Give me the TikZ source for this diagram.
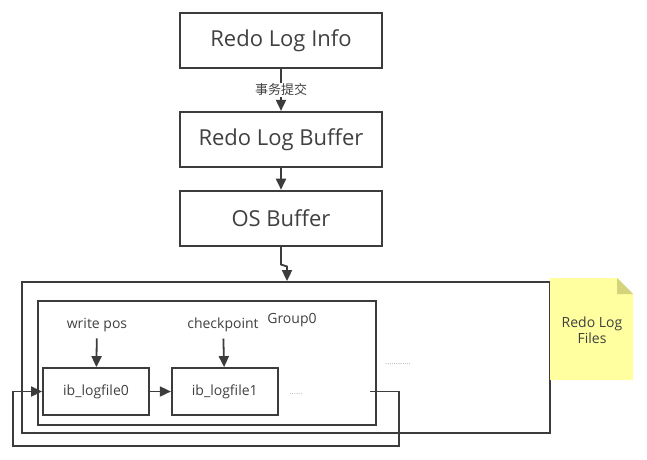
\documentclass[tikz,border=0pt]{standalone}
\usepackage{fontspec}
\setmainfont{Open Sans}
\newfontfamily\cjk{Noto Sans CJK SC}
\usetikzlibrary{arrows.meta,positioning}
\definecolor{linegray}{RGB}{60,60,60}
\definecolor{textgray}{RGB}{64,64,64}
\definecolor{noteyellow}{RGB}{255,255,160}
\definecolor{notefold}{RGB}{212,212,125}

\begin{document}
\begin{tikzpicture}[x=1pt, y=-1pt,
    stage/.style={draw=linegray, line width=1.8pt, minimum width=202pt, minimum height=55pt,
      font=\fontsize{22}{25}\selectfont, text=textgray},
    logfile/.style={draw=linegray, line width=1.8pt, minimum width=106pt, minimum height=47pt,
      font=\fontsize{14}{16}\selectfont, text=textgray},
    frame/.style={draw=linegray, line width=1.8pt, inner sep=0pt},
    small/.style={font=\fontsize{14}{16}\selectfont, text=textgray},
    dots/.style={font=\fontsize{8}{8}\selectfont, text=gray!70},
    arr/.style={-{Triangle[width=10pt,length=11pt]}, draw=linegray, line width=1.8pt}]
  \useasboundingbox (0,0) rectangle (647,459);

  % Pipeline
  \node[stage] (info) at (281,40.5) {Redo Log Info};
  \node[stage, below=42pt of info] (buffer) {Redo Log Buffer};
  \node[stage, below=22pt of buffer] (os) {OS Buffer};

  \draw[arr] (info) -- node[fill=white, small, font=\cjk\fontsize{13}{15}\selectfont, inner sep=1pt] (commit) {事务提交} (buffer);
  \draw[arr] (buffer) -- (os);

  % Files and group
  \node[frame, minimum width=528pt, minimum height=151pt] (files) at (286,357.5) {};
  \node[frame, minimum width=338pt, minimum height=124pt] (group) at (207,363) {};
  \node[small] (grouplbl) at (292,320) {Group0};
  \draw[arr] (os.south) -- ++(0,18) -- ++(6,2) -- (files.north -| 287,0);

  % Log files
  \node[logfile] (f0) at (96,391.5) {ib\_logfile0};
  \node[logfile, right=21pt of f0] (f1) {ib\_logfile1};
  \node[dots] (dots1) at (296,394) {......};
  \node[dots] (dots2) at (398,364) {............};
  \draw[arr] (f0) -- (f1);

  \node[small] (wpos) at (97,325) {write pos};
  \node[small] (ckpt) at (223,325) {checkpoint};
  \draw[arr, shorten <=3pt] (wpos) -- (f0);
  \draw[arr, shorten <=3pt] (ckpt) -- (f1);

  % Loop back
  \coordinate (loopR) at (399,446);
  \coordinate (loopL) at (13,446);
  \draw[arr] (370,391.5) -- (loopR |- f0.center) -- (loopR) -- (loopL) |- (f0.west);

  % Note
  \fill[noteyellow] (550,278) -- (617,278) -- (633,294) -- (633,380) -- (550,380) -- cycle;
  \fill[notefold] (617,278) -- (633,294) -- (617,294) -- cycle;
  \node[small, align=center] (note) at (592,330) {Redo Log\\Files};
\end{tikzpicture}
\end{document}
